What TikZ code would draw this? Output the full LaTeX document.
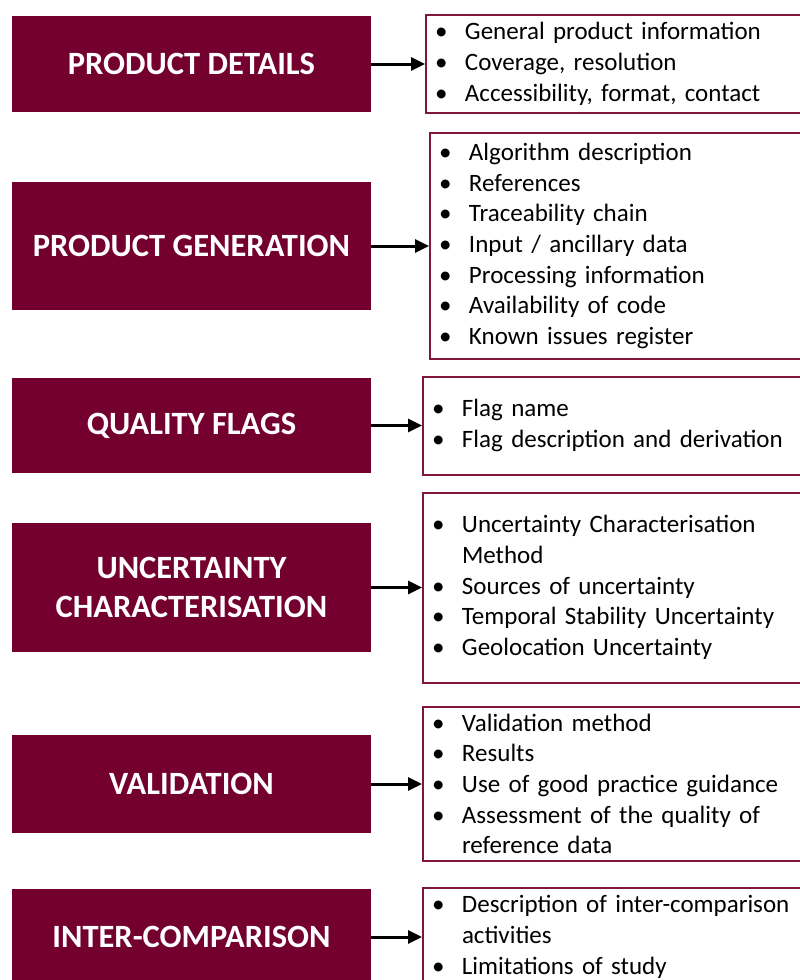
\documentclass[tikz,border=0pt]{standalone}
\usepackage{fontspec}
\setmainfont{Carlito}
\usepackage{xcolor}
\usepackage{tikz}
\usetikzlibrary{arrows.meta}
\definecolor{wine}{RGB}{115,0,46}
\definecolor{rim}{RGB}{128,22,62}
\newcommand{\bl}[1]{\makebox[30pt][l]{\textbullet}#1}
\newcommand{\cl}[1]{\hspace*{30pt}#1}

\begin{document}
\begin{tikzpicture}[x=1pt,y=-1pt,
  hd/.style={fill=wine,text=white,minimum width=359pt,inner sep=0pt,
             align=center,font=\fontsize{32.5}{39}\selectfont\bfseries},
  ls/.style={draw=rim,line width=2pt,anchor=west,text width=400pt,align=left,
             inner xsep=9pt,inner ysep=0pt,font=\fontsize{25}{30.7}\selectfont},
  a/.style={-{Triangle[length=14pt,width=13pt]},line width=3pt,black}]
  \useasboundingbox (0,0) rectangle (800,980);
  \clip (0,0) rectangle (800,980);
  % left headings
  \node[hd,minimum height=96pt] (det) at (191.5,64) {PRODUCT DETAILS};
  \node[hd,minimum height=128pt] (gen) at (191.5,246) {PRODUCT GENERATION};
  \node[hd,minimum height=95pt] (flg) at (191.5,425.5) {QUALITY FLAGS};
  \node[hd,minimum height=129pt] (unc) at (191.5,587.5) {UNCERTAINTY\\CHARACTERISATION};
  \node[hd,minimum height=98pt] (val) at (191.5,784) {VALIDATION};
  \node[hd,minimum height=96pt] (cmp) at (191.5,937) {INTER-COMPARISON};
  % right lists
  \node[ls,minimum height=98pt] (detl) at (425,64)
    {\bl{General product information}\\\bl{Coverage, resolution}\\\bl{Accessibility, format, contact}};
  \node[ls,minimum height=226pt] (genl) at (429,246)
    {\bl{Algorithm description}\\\bl{References}\\\bl{Traceability chain}\\\bl{Input / ancillary data}\\
     \bl{Processing information}\\\bl{Availability of code}\\\bl{Known issues register}};
  \node[ls,minimum height=98pt] (flgl) at (422,425.5)
    {\bl{Flag name}\\\bl{Flag description and derivation}};
  \node[ls,minimum height=190pt] (uncl) at (422,587.5)
    {\bl{Uncertainty Characterisation}\\\cl{Method}\\\bl{Sources of uncertainty}\\
     \bl{Temporal Stability Uncertainty}\\\bl{Geolocation Uncertainty}};
  \node[ls,minimum height=154pt] (vall) at (422,784)
    {\bl{Validation method}\\\bl{Results}\\\bl{Use of good practice guidance}\\
     \bl{Assessment of the quality of}\\\cl{reference data}};
  \node[ls,minimum height=98pt] (cmpl) at (422,937)
    {\bl{Description of inter-comparison}\\\cl{activities}\\\bl{Limitations of study}};
  \draw[a] (det)--(detl); \draw[a] (gen)--(genl); \draw[a] (flg)--(flgl);
  \draw[a] (unc)--(uncl); \draw[a] (val)--(vall); \draw[a] (cmp)--(cmpl);
\end{tikzpicture}
\end{document}
